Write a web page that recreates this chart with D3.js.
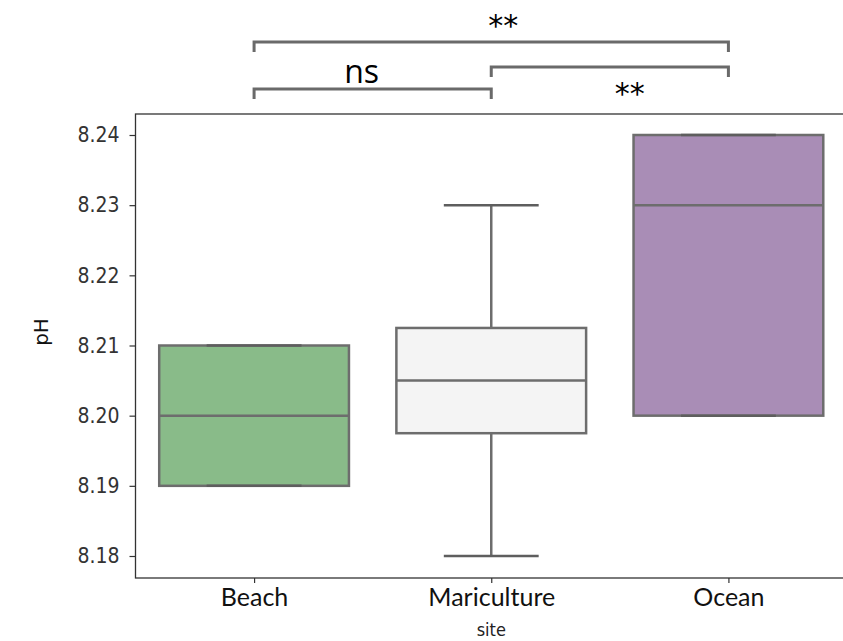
<!DOCTYPE html>
<html lang="en">
<head>
    <meta charset="UTF-8">
    <title>pH by site</title>
    <script src="https://d3js.org/d3.v7.min.js"></script>
    <style>
        body { margin: 0; background: #fff; }
    </style>
</head>
<body>
<script>
    const width  = 843;
    const height = 641;

    // data
    const sites   = ["Beach", "Mariculture", "Ocean"];
    const whiskLo = [8.19, 8.18, 8.20];
    const q1      = [8.19, 8.1975, 8.20];
    const median  = [8.20, 8.205, 8.23];
    const q3      = [8.21, 8.2125, 8.24];
    const whiskHi = [8.21, 8.23, 8.24];
    const colors  = ["#89bb89", "#f4f4f4", "#a98db6"];
    const yTicks  = [8.18, 8.19, 8.20, 8.21, 8.22, 8.23, 8.24];

    // significance brackets: from, to, label
    const pairs = [
        {a: 0, b: 1, label: "ns", level: 0},
        {a: 1, b: 2, label: "**", level: 1},
        {a: 0, b: 2, label: "**", level: 2}
    ];

    const boxes = sites.map((s, i) => ({
        site: s, lo: whiskLo[i], q1: q1[i], med: median[i], q3: q3[i], hi: whiskHi[i], color: colors[i]
    }));

    const scaleX = d3.scaleLinear().domain([-0.5, 2.5]).range([135.5, 847]);
    const scaleY = d3.scaleLinear().domain([8.18, 8.24]).range([556, 135]);
    const plotTop = 114, plotBottom = 578;

    const svg = d3.select("body").append("svg").attr("width", width).attr("height", height);

    const edge = "#6d6d6d";
    const boxW = 0.8, capW = 0.4;

    const g = svg.selectAll("g.box").data(boxes).enter().append("g").attr("class", "box");

    // whiskers
    g.append("line")
        .attr("x1", (d, i) => scaleX(i)).attr("x2", (d, i) => scaleX(i))
        .attr("y1", d => scaleY(d.hi)).attr("y2", d => scaleY(d.q3))
        .attr("stroke", edge).attr("stroke-width", 2.5);
    g.append("line")
        .attr("x1", (d, i) => scaleX(i)).attr("x2", (d, i) => scaleX(i))
        .attr("y1", d => scaleY(d.q1)).attr("y2", d => scaleY(d.lo))
        .attr("stroke", edge).attr("stroke-width", 2.5);

    g.append("rect")
        .attr("x", (d, i) => scaleX(i - boxW / 2))
        .attr("width", scaleX(boxW) - scaleX(0))
        .attr("y", d => scaleY(d.q3))
        .attr("height", d => scaleY(d.q1) - scaleY(d.q3))
        .attr("fill", d => d.color)
        .attr("stroke", edge).attr("stroke-width", 2.5);

    // caps
    ["lo", "hi"].forEach(k => {
        g.append("line")
            .attr("x1", (d, i) => scaleX(i - capW / 2)).attr("x2", (d, i) => scaleX(i + capW / 2))
            .attr("y1", d => scaleY(d[k])).attr("y2", d => scaleY(d[k]))
            .attr("stroke", "#5e5e5e").attr("stroke-width", 2.5);
    });

    // median
    g.append("line")
        .attr("x1", (d, i) => scaleX(i - boxW / 2)).attr("x2", (d, i) => scaleX(i + boxW / 2))
        .attr("y1", d => scaleY(d.med)).attr("y2", d => scaleY(d.med))
        .attr("stroke", edge).attr("stroke-width", 2.5);

    // frame
    svg.append("rect")
        .attr("x", scaleX(-0.5)).attr("y", plotTop)
        .attr("width", scaleX(2.5) - scaleX(-0.5)).attr("height", plotBottom - plotTop)
        .attr("fill", "none").attr("stroke", "#333").attr("stroke-width", 1.3);

    // axes
    const yAxis = d3.axisLeft(scaleY).tickValues(yTicks).tickFormat(d3.format(".2f")).tickSize(6).tickPadding(10);
    const ya = svg.append("g").attr("transform", "translate(" + scaleX(-0.5) + ",0)").call(yAxis);
    ya.select(".domain").remove();
    ya.selectAll(".tick line").attr("stroke", "#333").attr("stroke-width", 1.2);
    ya.selectAll(".tick text")
        .attr("font-family", "DejaVu Sans Condensed, DejaVu Sans, sans-serif")
        .attr("font-size", 21).attr("fill", "#333");

    const xAxis = d3.axisBottom(scaleX).tickValues([0, 1, 2]).tickFormat(i => sites[i]).tickSize(5).tickPadding(5);
    const xa = svg.append("g").attr("transform", "translate(0," + plotBottom + ")").call(xAxis);
    xa.select(".domain").remove();
    xa.selectAll(".tick line").attr("stroke", "#333").attr("stroke-width", 1.2);
    xa.selectAll(".tick text")
        .attr("font-family", "Lato, sans-serif").attr("font-size", 25).attr("fill", "#111");

    svg.append("text")
        .attr("x", scaleX(1)).attr("y", 636)
        .attr("text-anchor", "middle")
        .attr("font-family", "DejaVu Sans Condensed, DejaVu Sans, sans-serif").attr("font-size", 18).attr("fill", "#222")
        .text("site");

    svg.append("text")
        .attr("transform", "translate(48,332) rotate(-90)")
        .attr("text-anchor", "middle")
        .attr("font-family", "DejaVu Sans, sans-serif").attr("font-size", 20).attr("fill", "#111")
        .text("pH");

    // brackets
    const barY  = [89, 67, 42];
    const tickH = 10;
    const textPos = [
        {dx: -11, y: 83, size: 32},
        {dx: 20, y: 104, size: 30},
        {dx: 12, y: 36, size: 30}
    ];
    pairs.forEach((p, k) => {
        const x1 = scaleX(p.a), x2 = scaleX(p.b), y = barY[p.level];
        svg.append("path")
            .attr("d", d3.line()([[x1, y + tickH], [x1, y], [x2, y], [x2, y + tickH]]))
            .attr("fill", "none").attr("stroke", "#6a6a6a").attr("stroke-width", 3);
        const t = textPos[k];
        svg.append("text")
            .attr("x", (x1 + x2) / 2 + t.dx).attr("y", t.y)
            .attr("text-anchor", "middle")
            .attr("font-family", p.label === "ns" ? "Open Sans, sans-serif" : "DejaVu Sans, sans-serif")
            .attr("font-size", t.size).attr("fill", "#000")
            .text(p.label);
    });
</script>
</body>
</html>
